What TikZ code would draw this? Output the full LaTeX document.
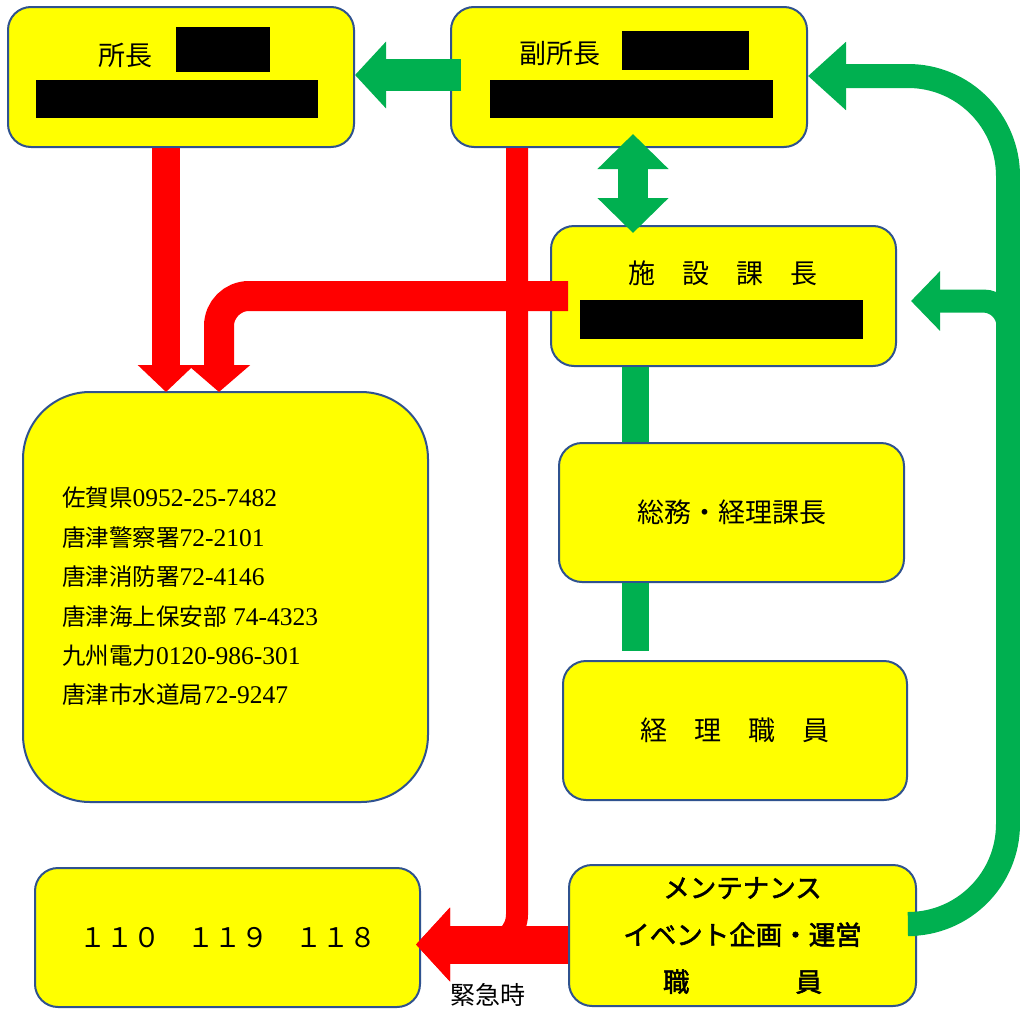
\documentclass[tikz,border=0pt]{standalone}
\usepackage{fontspec}
\setmainfont{Liberation Serif}
\newfontfamily\jp{Noto Sans CJK JP}[AutoFakeBold=2]
\usetikzlibrary{calc,arrows.meta}

\definecolor{boxyellow}{HTML}{FFFF00}
\definecolor{boxblue}{HTML}{2F528F}
\definecolor{arrowgreen}{HTML}{00B050}
\definecolor{arrowred}{HTML}{FF0000}

\tikzset{
  box/.style={draw=boxblue, line width=2pt, fill=boxyellow, rounded corners=23pt,
    inner sep=0pt, font=\jp\fontsize{27}{32}\selectfont},
  boxlabel/.style={font=\jp\fontsize{27}{32}\selectfont},
}

\begin{document}
\begin{tikzpicture}[x=1pt, y=-1pt]
\path[fill=white, use as bounding box] (0,0) rectangle (1020,1012);

% boxes
\node[box, minimum width=346pt, minimum height=140pt] (shocho) at (181,77) {};
\node[box, minimum width=356pt, minimum height=140pt] (fuku) at (629,77) {};
\node[box, minimum width=345pt, minimum height=140pt] (shisetsu) at (723.5,296) {};
\node[box, rounded corners=67pt, minimum width=405pt, minimum height=410pt] (renraku) at (225.5,597) {};
\node[box, minimum width=345pt, minimum height=139pt] (somu) at (731.5,512.5) {総務・経理課長};
\node[box, minimum width=344pt, minimum height=139pt] (keiri) at (735,730.5) {経　理　職　員};
\node[box, minimum width=385pt, minimum height=139pt] (kinkyu) at (227.5,937.5) {１１０　１１９　１１８};
\node[box, minimum width=347pt, minimum height=141pt, align=center,
  font=\jp\bfseries\fontsize{26.5}{47}\selectfont] (maint) at (742.5,935.5)
  {メンテナンス\\イベント企画・運営\\職　　　　員};

% titles and blacked out names
\node[boxlabel] (shocho-title) at (125,55) {所長};
\fill (176,27) rectangle (270,72);
\fill (36,80) rectangle (318,118);
\node[boxlabel] (fuku-title) at (560,53) {副所長};
\fill (622,31) rectangle (749,70);
\fill (490,80) rectangle (773,118);
\node[boxlabel] (shisetsu-title) at (723,273) {施　設　課　長};
\fill (580,300) rectangle (863,339);

% phone list
\foreach \place/\num [count=\i from 0] in {佐賀県/0952-25-7482, 唐津警察署/72-2101,
    唐津消防署/72-4146, 唐津海上保安部/\space74-4323, 九州電力/0120-986-301,
    唐津市水道局/72-9247}{
  \node[anchor=west, inner sep=0pt, font=\fontsize{25.5}{28}\selectfont] (tel\i)
    at (62,{498+39.4*\i}) {{\jp\fontsize{23.5}{28}\selectfont\place}\num};
}

\node[font=\jp\fontsize{25}{30}\selectfont] (kinkyu-label) at (488,995) {緊急時};

% green lines
\coordinate (trunk) at ($(somu.north)+(-96,0)$);
\draw[arrowgreen, line width=27pt] (trunk |- shisetsu.south) -- (trunk);
\draw[arrowgreen, line width=27pt] (trunk |- somu.south) -- ($(trunk |- keiri.north)+(0,-9)$);
\draw[arrowgreen, line width=32pt, -{Triangle[width=65pt,length=31pt]}]
  ($(fuku.west)+(11,-2)$) -- (shocho.east |- 0,75);
\draw[arrowgreen, line width=30pt, {Triangle[width=69pt,length=35pt]}-{Triangle[width=69pt,length=35pt]}]
  ($(fuku.south)+(4,-14)$) -- ($(shisetsu.north)+(-90.5,8)$);
\coordinate (rail) at (1008,76);
\draw[arrowgreen, line width=24pt, rounded corners=100pt, -{Triangle[width=66pt,length=38pt]}]
  ($(maint.east)+(0,-11.5)$) -| (rail) -- (fuku.east |- rail);
\draw[arrowgreen, line width=23pt, rounded corners=25pt, -{Triangle[width=58pt,length=29pt]}]
  (rail |- shisetsu.south) |- ($(shisetsu.east)+(14,5)$);

% red lines
\draw[arrowred, line width=28pt, -{Triangle[width=55pt,length=27pt]}]
  ($(shocho.south)+(-15,0)$) -- ($(shocho.south |- renraku.north)+(-15,1)$);
\draw[arrowred, line width=30pt, rounded corners=30pt, -{Triangle[width=61pt,length=27pt]}]
  ($(shisetsu.west)+(18,0)$) -| ($(renraku.north)+(-6.5,1)$);
\coordinate (alarm) at ($(kinkyu.east)+(-5,7)$);
\draw[arrowred, line width=22pt, rounded corners=30pt, -{Triangle[width=72pt,length=34pt]}]
  ($(fuku.south)+(-112,0)$) |- (alarm);
\draw[arrowred, line width=38pt, -{Triangle[width=72pt,length=34pt]}]
  (maint.west |- alarm) -- (alarm);
\end{tikzpicture}
\end{document}
